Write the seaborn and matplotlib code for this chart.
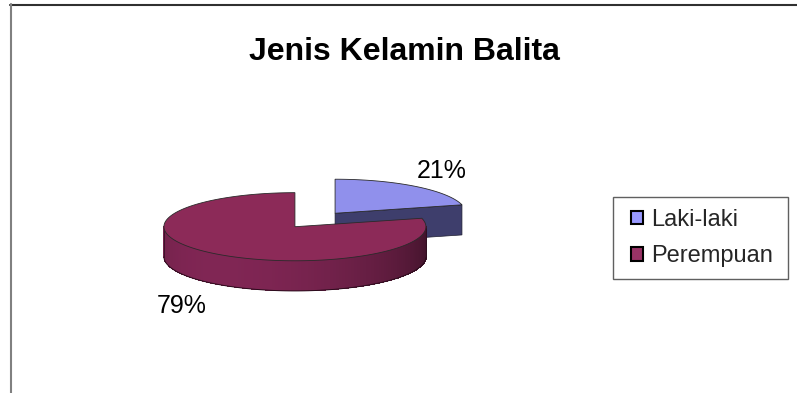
import numpy as np
import matplotlib
matplotlib.use("Agg")
import matplotlib.pyplot as plt
import seaborn as sns
from matplotlib.patches import Polygon, Rectangle, Patch
from matplotlib.lines import Line2D
from matplotlib.colors import to_rgb

# data
labels = ['Laki-laki', 'Perempuan']
values = [21, 79]
pct_labels = ['21%', '79%']
top_colors = ['#9090EC', '#8C2A58']
side_colors = ['#3E3E6C', '#7A2450']
legend_colors = ['#9999FF', '#993366']

sns.set_theme(style="white")
plt.rcParams['font.family'] = ['Liberation Sans', 'DejaVu Sans']

W, H = 797, 393
fig = plt.figure(figsize=(W / 100, H / 100), dpi=100)
fig.patch.set_facecolor('white')
ax = fig.add_axes([0, 0, 1, 1])
ax.axis('off')

# pie centre and radius in pixels, axes in "radius" units
cx, cy, R = 315, 220, 131
ax.set_xlim(-cx / R, (W - cx) / R)
ax.set_ylim((cy - H) / R, cy / R)

tilt = 0.26
depth = 0.23
explode = 0.25
light = np.deg2rad(235)


def shade(color, mult):
    r, g, b = to_rgb(color)
    return (min(r * mult, 1), min(g * mult, 1), min(b * mult, 1))


fractions = np.array(values) / sum(values)
cum = np.concatenate([[0], np.cumsum(fractions)])
slices = []
for i in range(len(values)):
    t1 = 90 - cum[i + 1] * 360
    t2 = 90 - cum[i] * 360
    slices.append((i, t1, t2))

# back slices first
slices.sort(key=lambda s: -np.sin(np.deg2rad((s[1] + s[2]) / 2)))

for i, t1, t2 in slices:
    mid = np.deg2rad((t1 + t2) / 2)
    ox, oy = explode * np.cos(mid), explode * np.sin(mid)
    th = np.deg2rad(np.linspace(t1, t2, 200))
    xs = ox + np.cos(th)
    ys = tilt * (oy + np.sin(th))
    cxp, cyp = ox, tilt * oy

    # radial faces
    a1, a2 = np.deg2rad(t1), np.deg2rad(t2)
    for a, vis in [(a1, np.cos(a1) > 1e-6), (a2, np.cos(a2) < -1e-6)]:
        if vis:
            ex, ey = ox + np.cos(a), tilt * (oy + np.sin(a))
            quad = [(cxp, cyp), (ex, ey), (ex, ey - depth), (cxp, cyp - depth)]
            ax.add_patch(Polygon(quad, closed=True, facecolor=side_colors[i],
                                 edgecolor='#1e1e30', lw=0.5, zorder=2 + i * 10))

    # outer wall, shaded strip by strip
    for k in range(len(th) - 1):
        m = (th[k] + th[k + 1]) / 2
        if np.sin(m) < 0:
            mult = 0.72 + 0.33 * np.cos(m - light)
            c = shade(side_colors[i], mult)
            quad = [(xs[k], ys[k]), (xs[k + 1] + 0.004, ys[k + 1]),
                    (xs[k + 1] + 0.004, ys[k + 1] - depth), (xs[k], ys[k] - depth)]
            ax.add_patch(Polygon(quad, closed=True, facecolor=c, edgecolor='none',
                                 antialiased=False, zorder=3 + i * 10))
    front = np.sin(th) < 0
    if front.any():
        ax.plot(xs[front], ys[front] - depth, color='#2a0c1c', lw=0.7, zorder=4 + i * 10)
        idx = np.where(front)[0]
        for j in [idx[0], idx[-1]]:
            ax.plot([xs[j], xs[j]], [ys[j], ys[j] - depth], color='#2a0c1c',
                    lw=0.5, zorder=4 + i * 10)

    # top face
    top = np.column_stack([np.r_[cxp, xs], np.r_[cyp, ys]])
    ax.add_patch(Polygon(top, closed=True, facecolor=top_colors[i],
                         edgecolor='#2a2a2a', lw=0.6, zorder=5 + i * 10))

# percentage labels (baseline positions in pixels)
label_pos = [(442, 178), (182, 313)]
for txt, (px, py) in zip(pct_labels, label_pos):
    fig.text(px / W, 1 - py / H, txt, ha='center', va='baseline',
             fontsize=18, color='black')

fig.text(404 / W, 1 - 60 / H, 'Jenis Kelamin Balita', ha='center', va='baseline',
         fontsize=23, fontweight='bold', color='black')

handles = [Patch(facecolor=c, edgecolor='black', lw=1.5) for c in legend_colors]
ax.legend(handles, labels, loc='center left', bbox_to_anchor=(631 / W, 1 - 238 / H),
          bbox_transform=fig.transFigure, frameon=False, fontsize=17,
          borderpad=0, borderaxespad=0, handlelength=0.52, handleheight=0.52,
          handletextpad=0.35, labelspacing=0.6)
fig.add_artist(Rectangle((613 / W, 1 - 279 / H), 175 / W, 82 / H,
                         transform=fig.transFigure, fill=False,
                         edgecolor='#606060', lw=1))

# outer chart border (top and left only)
fig.add_artist(Line2D([10 / W, 1], [1 - 4.5 / H] * 2, transform=fig.transFigure,
                      color='#303030', lw=1.5))
fig.add_artist(Line2D([10.5 / W] * 2, [0, 1 - 4 / H], transform=fig.transFigure,
                      color='#808080', lw=1.5))

fig.savefig('out.png', dpi=100)
